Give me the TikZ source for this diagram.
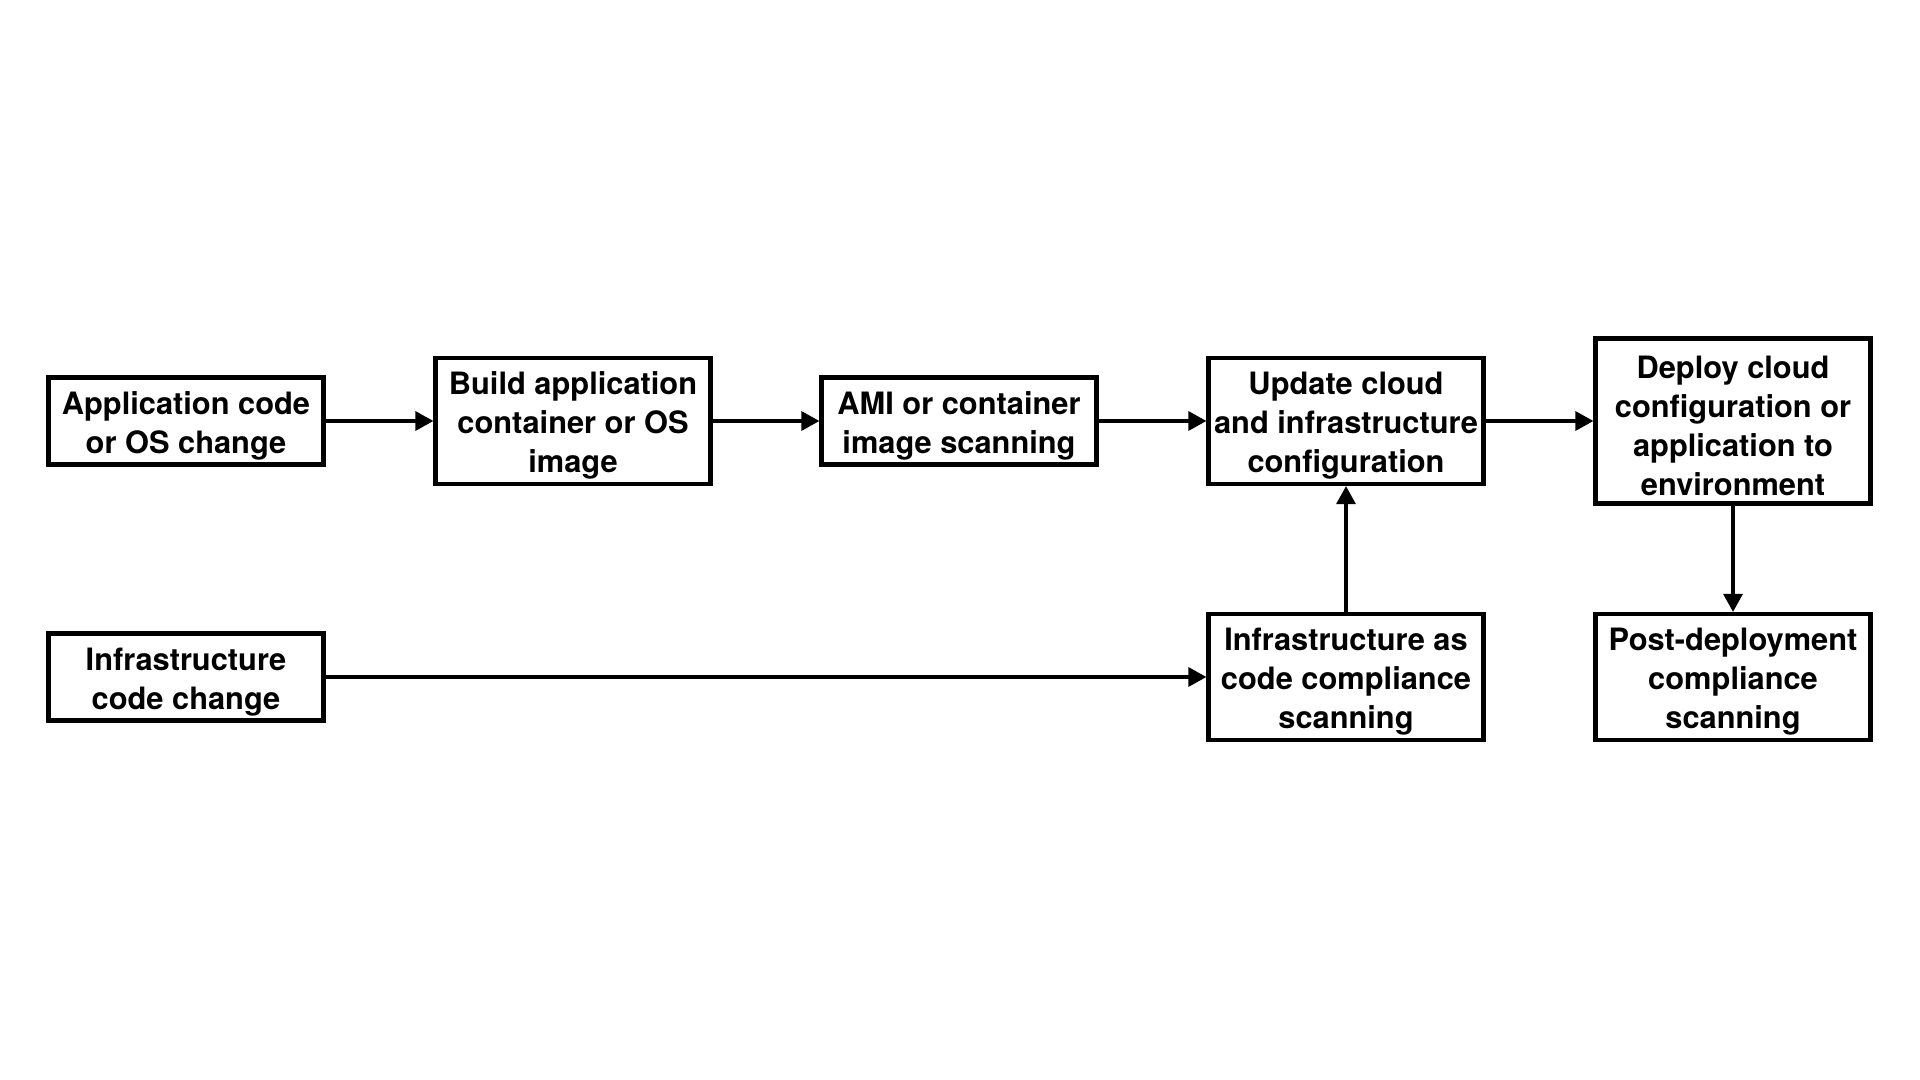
\documentclass[tikz,border=0pt]{standalone}
\usepackage{fontspec}
\setmainfont{TeX Gyre Heros}
\usetikzlibrary{arrows.meta}
\newcommand\topstrut{\rule{0pt}{16pt}}
\begin{document}
\begin{tikzpicture}[x=0.5pt,y=-0.5pt,
  box/.style={draw, line width=2.1pt, align=center, inner sep=0pt,
    minimum width=137.5pt, font=\fontsize{15.4}{19.6}\selectfont\bfseries},
  btwo/.style={box, minimum height=43.5pt},
  bthree/.style={box, minimum height=63pt},
  bfour/.style={box, minimum height=82.5pt},
  arr/.style={line width=1.6pt, -{Triangle[length=9pt,width=9.5pt]}}]
\useasboundingbox[fill=white] (0,0) rectangle (1920,1080);
\node[btwo]   (app)    at (186,421)  {\topstrut Application code\\or OS change};
\node[bthree] (build)  at (573,421)  {\topstrut Build application\\container or OS\\image};
\node[btwo]   (ami)    at (959,421)  {\topstrut AMI or container\\image scanning};
\node[bthree] (update) at (1346,421) {\topstrut Update cloud\\and infrastructure\\configuration};
\node[bfour]  (deploy) at (1733,421) {\topstrut Deploy cloud\\configuration or\\application to\\environment};
\node[btwo]   (infra)  at (186,677)  {\topstrut Infrastructure\\code change};
\node[bthree] (iac)    at (1346,677) {\topstrut Infrastructure as\\code compliance\\scanning};
\node[bthree] (post)   at (1733,677) {\topstrut Post-deployment\\compliance\\scanning};
\draw[arr] (app) -- (build);
\draw[arr] (build) -- (ami);
\draw[arr] (ami) -- (update);
\draw[arr] (update) -- (deploy);
\draw[arr] (deploy) -- (post);
\draw[arr] (iac) -- (update);
\draw[arr] (infra) -- (iac);
\end{tikzpicture}
\end{document}
